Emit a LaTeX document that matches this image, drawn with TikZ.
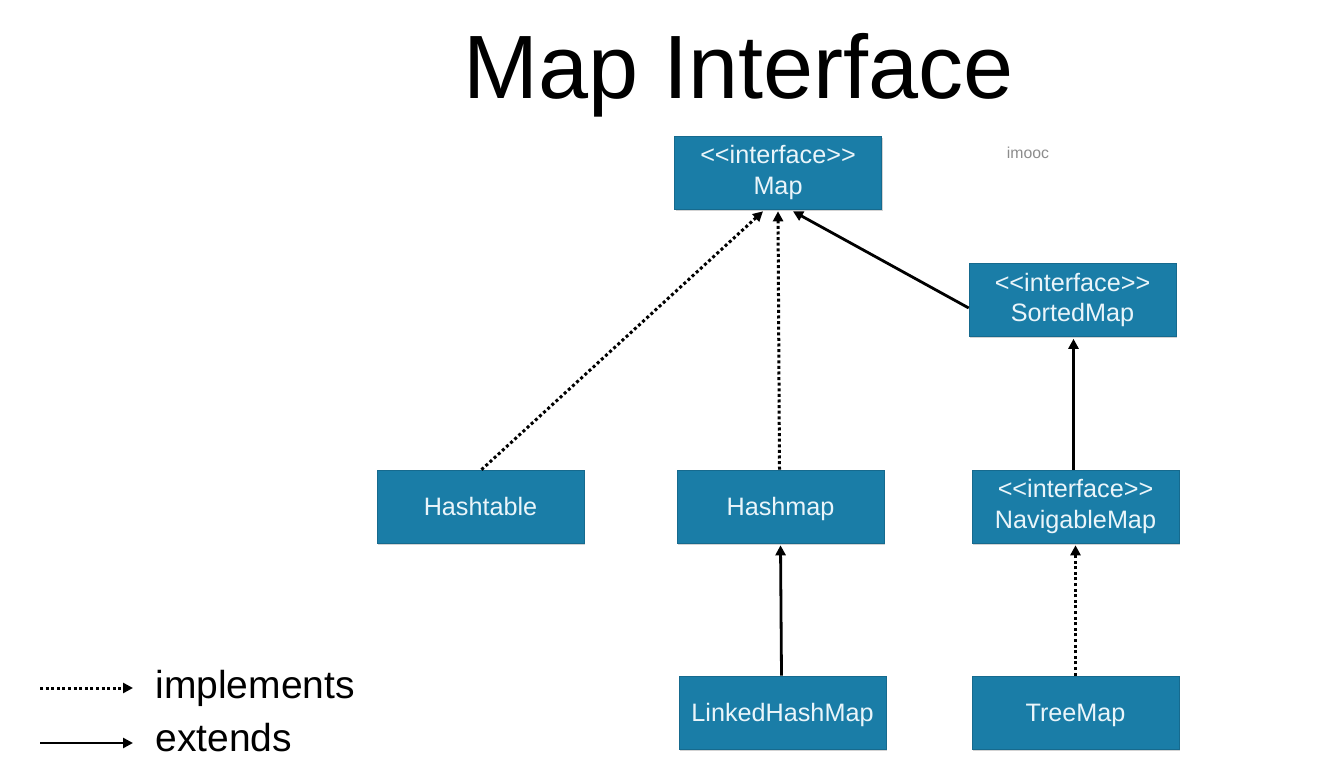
\documentclass[tikz,border=0pt]{standalone}
\usepackage{fontspec}
\setmainfont{Liberation Sans}
\usetikzlibrary{arrows.meta,shadows}
\definecolor{boxblue}{HTML}{1A7DA7}
\definecolor{boxtext}{HTML}{EAF5FA}
\newcommand{\iface}{{<}{<}interface{>}{>}}
\tikzset{
  cls/.style={rectangle, fill=boxblue, draw=boxblue!85!black, line width=0.3pt,
    minimum width=103.5pt, minimum height=36.5pt, text=boxtext, align=center,
    font=\fontsize{12.6}{15.2}\selectfont, inner sep=0pt,
    drop shadow={shadow xshift=0.6pt, shadow yshift=-0.8pt, opacity=0.35}},
  oneline/.style={text height=9pt, text depth=0pt},
  impl/.style={line width=1.5pt, dash pattern=on 1.5pt off 1.3pt,
    -{Triangle[length=5pt,width=5pt]}},
  ext/.style={line width=1.4pt, -{Triangle[length=5pt,width=5pt]}},
}
\begin{document}
\begin{tikzpicture}[x=0.5pt,y=-0.5pt]
\useasboundingbox (0,0) rectangle (1343,763);
\node (title) at (739,75) {\fontsize{45}{50}\selectfont Map Interface};
\node[text=black!45, font=\fontsize{7.9}{9}\selectfont] (imooc) at (1028,153) {imooc};

\node[cls] (map) at (778,172.5) {\iface\\Map};
\node[cls] (sorted) at (1072.5,300) {\iface\\SortedMap};
\node[cls,oneline] (hashtable) at (480.5,506.5) {Hashtable};
\node[cls,oneline] (hashmap) at (780.5,506.5) {Hashmap};
\node[cls] (nav) at (1075.5,506.5) {\iface\\NavigableMap};
\node[cls,oneline] (linked) at (782.5,712.5) {LinkedHashMap};
\node[cls,oneline] (tree) at (1075.5,712.5) {TreeMap};

\draw[impl] ([xshift=0.5pt]hashtable.north) -- ([xshift=-7.5pt,yshift=-1pt]map.south);
\draw[impl] ([xshift=-0.5pt]hashmap.north) -- ([yshift=-1pt]map.south);
\draw[ext] ([yshift=-4pt]sorted.west) -- ([xshift=7.5pt,yshift=-1pt]map.south);
\draw[ext] ([xshift=-1pt]nav.north) -- ([xshift=0.5pt,yshift=-1pt]sorted.south);
\draw[ext] ([xshift=-0.5pt]linked.north) -- ([yshift=-1pt]hashmap.south);
\draw[impl] (tree.north) -- ([yshift=-1pt]nav.south);

\coordinate (l1a) at (40,688);
\coordinate (l1b) at (133,688);
\coordinate (l2a) at (40,743);
\coordinate (l2b) at (133,743);
\draw[impl] (l1a) -- (l1b);
\draw[ext] (l2a) -- (l2b);
\node[anchor=west, font=\fontsize{19.5}{22}\selectfont, inner sep=0pt] (limpl) at (155,688) {implements};
\node[anchor=west, font=\fontsize{19.5}{22}\selectfont, inner sep=0pt] (lext) at (155,738) {extends};
\end{tikzpicture}
\end{document}
